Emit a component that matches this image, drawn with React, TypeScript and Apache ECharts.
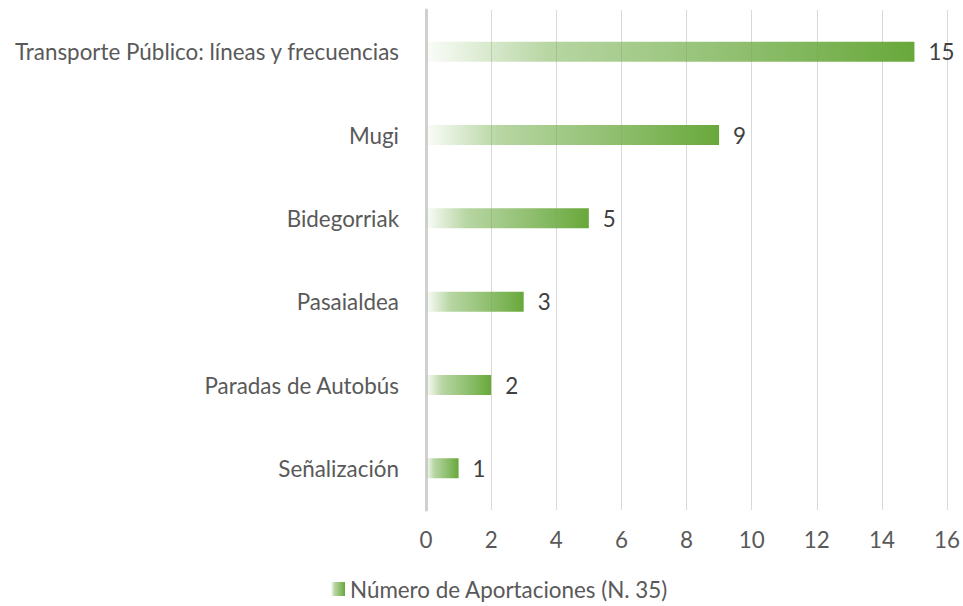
import React, { useEffect, useRef } from "react";
import * as echarts from "echarts";

const categories = [
  "Transporte Público: líneas y frecuencias",
  "Mugi",
  "Bidegorriak",
  "Pasaialdea",
  "Paradas de Autobús",
  "Señalización",
];
const values = [15, 9, 5, 3, 2, 1];
const seriesName = "Número de Aportaciones (N. 35)";

const FONT = "Lato, 'Open Sans', sans-serif";
const SIZE = 22.4;

export default function App() {
  const ref = useRef<HTMLDivElement>(null);

  useEffect(() => {
    if (!ref.current) return;
    const chart = echarts.init(ref.current, undefined, { renderer: "svg" });
    const barFill = new echarts.graphic.LinearGradient(0, 0, 1, 0, [
      { offset: 0, color: "rgba(112,173,71,0.03)" },
      { offset: 0.25, color: "rgba(112,173,71,0.5)" },
      { offset: 0.6, color: "rgba(112,173,71,0.75)" },
      { offset: 1, color: "rgba(104,168,58,1)" },
    ]);
    chart.setOption({
      animation: false,
      textStyle: { fontFamily: FONT },
      grid: { left: 426, right: 14, top: 10, height: 500, containLabel: false },
      legend: {
        data: [seriesName],
        left: 326,
        bottom: 1,
        icon: "rect",
        itemWidth: 14,
        itemHeight: 14,
        itemGap: 6,
        textStyle: { fontSize: SIZE, color: "#595959", fontFamily: FONT },
      },
      xAxis: {
        type: "value",
        min: 0,
        max: 16,
        interval: 2,
        axisLine: { show: false },
        axisTick: { show: false },
        axisLabel: { fontSize: SIZE, color: "#595959", margin: 18, fontFamily: FONT },
        splitLine: { show: true, lineStyle: { color: "#d9d9d9", width: 1 } },
      },
      yAxis: {
        type: "category",
        data: categories,
        inverse: true,
        axisLine: { show: true, lineStyle: { color: "#d0d0d0", width: 3 } },
        axisTick: { show: false },
        axisLabel: { fontSize: SIZE, color: "#595959", margin: 27, fontFamily: FONT },
        splitLine: { show: false },
      },
      series: [
        {
          name: seriesName,
          type: "bar",
          data: values,
          barWidth: 20,
          itemStyle: { color: barFill },
          label: {
            show: true,
            position: "right",
            distance: 14,
            fontSize: SIZE,
            color: "#404040",
            fontFamily: FONT,
          },
        },
      ],
    });
    return () => chart.dispose();
  }, []);

  return (
    <div
      ref={ref}
      style={{ position: "fixed", left: 0, top: 0, width: 963, height: 606, background: "#fff" }}
    />
  );
}
